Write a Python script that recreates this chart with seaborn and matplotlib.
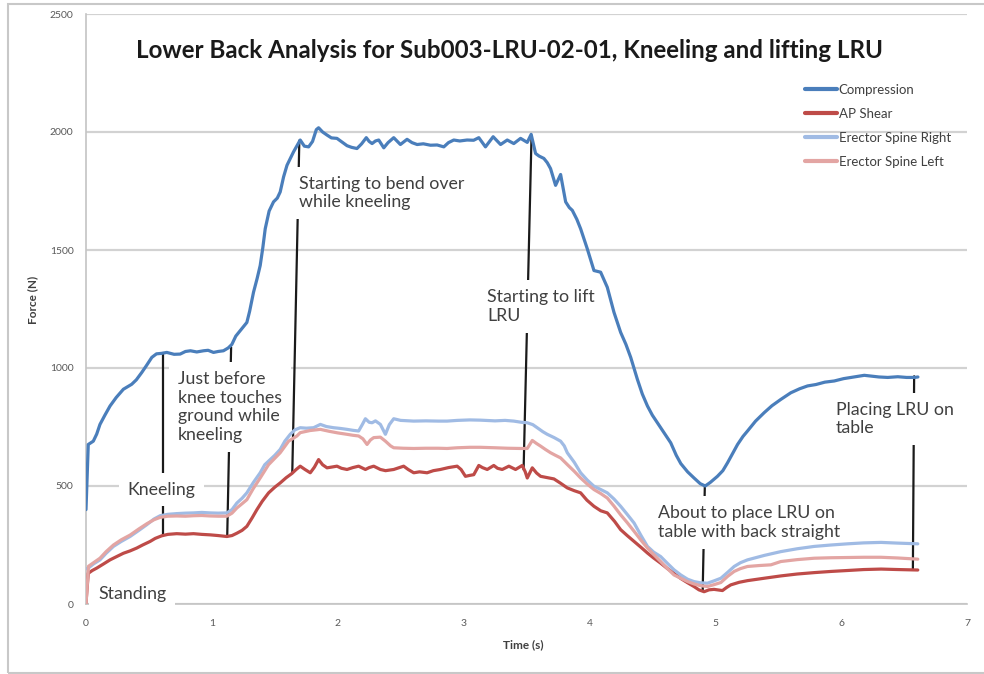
import matplotlib
matplotlib.use("Agg")
import matplotlib.pyplot as plt
import seaborn as sns
from matplotlib.patches import Rectangle

sns.set_theme(style="white")
plt.rcParams['font.family'] = ['Lato', 'DejaVu Sans']

# ---- measured forces (N) against time (s) ----
comp_t = [0.000, 0.018, 0.058, 0.085, 0.111, 0.150, 0.191, 0.240, 0.297, 0.363, 0.400, 0.443, 0.480,
          0.523, 0.560, 0.600, 0.642, 0.700, 0.748, 0.790, 0.830, 0.880, 0.934, 0.970, 1.013, 1.050,
          1.092, 1.130, 1.159, 1.190, 1.225, 1.278, 1.300, 1.331, 1.360, 1.384, 1.405, 1.424, 1.455,
          1.490, 1.520, 1.543, 1.570, 1.597, 1.625, 1.649, 1.680, 1.702, 1.735, 1.769, 1.800, 1.830,
          1.848, 1.880, 1.915, 1.950, 1.994, 2.040, 2.074, 2.110, 2.153, 2.190, 2.227, 2.250, 2.273,
          2.300, 2.326, 2.366, 2.400, 2.445, 2.470, 2.498, 2.525, 2.551, 2.590, 2.631, 2.680, 2.737,
          2.790, 2.843, 2.880, 2.922, 2.970, 3.028, 3.080, 3.121, 3.174, 3.235, 3.294, 3.347, 3.399,
          3.453, 3.506, 3.537, 3.572, 3.600, 3.638, 3.665, 3.691, 3.731, 3.771, 3.811, 3.840, 3.864,
          3.900, 3.930, 3.983, 4.036, 4.060, 4.089, 4.142, 4.195, 4.248, 4.290, 4.328, 4.381, 4.420,
          4.461, 4.500, 4.540, 4.600, 4.646, 4.690, 4.726, 4.780, 4.831, 4.880, 4.920, 4.960, 5.017,
          5.060, 5.097, 5.140, 5.177, 5.220, 5.256, 5.320, 5.389, 5.450, 5.521, 5.600, 5.670, 5.733,
          5.800, 5.870, 5.945, 6.020, 6.100, 6.184, 6.250, 6.300, 6.370, 6.450, 6.520, 6.582, 6.610]
comp_f = [400, 676, 690, 720, 761, 800, 839, 875, 910, 931, 950, 981, 1010,
          1045, 1060, 1062, 1066, 1058, 1059, 1070, 1073, 1068, 1073, 1075, 1066, 1070,
          1073, 1085, 1100, 1135, 1158, 1193, 1240, 1321, 1380, 1434, 1510, 1590, 1665,
          1704, 1720, 1746, 1810, 1859, 1890, 1916, 1945, 1966, 1940, 1937, 1960, 2010,
          2018, 2000, 1987, 1975, 1973, 1955, 1942, 1935, 1930, 1950, 1976, 1960, 1951,
          1962, 1966, 1933, 1955, 1976, 1962, 1947, 1958, 1969, 1955, 1947, 1950, 1944,
          1945, 1937, 1955, 1966, 1962, 1966, 1965, 1976, 1937, 1980, 1947, 1966, 1951,
          1973, 1956, 1990, 1909, 1898, 1888, 1870, 1845, 1774, 1820, 1704, 1680, 1668,
          1630, 1590, 1505, 1413, 1410, 1406, 1342, 1236, 1151, 1100, 1045, 952, 890,
          839, 800, 768, 720, 683, 630, 595, 560, 534, 510, 500, 515, 541,
          565, 598, 640, 676, 710, 733, 775, 811, 840, 867, 895, 912, 924,
          930, 940, 945, 955, 962, 969, 965, 962, 960, 963, 960, 960, 962]

shear_t = [0.000, 0.018, 0.050, 0.085, 0.140, 0.191, 0.240, 0.297, 0.350, 0.403, 0.450, 0.509, 0.550,
           0.602, 0.650, 0.721, 0.790, 0.854, 0.920, 0.986, 1.050, 1.119, 1.160, 1.199, 1.240, 1.278,
           1.320, 1.358, 1.400, 1.451, 1.500, 1.543, 1.590, 1.636, 1.670, 1.702, 1.740, 1.782, 1.815,
           1.848, 1.880, 1.915, 1.950, 1.994, 2.030, 2.074, 2.120, 2.166, 2.220, 2.250, 2.286, 2.339,
           2.380, 2.445, 2.490, 2.524, 2.560, 2.604, 2.650, 2.710, 2.760, 2.816, 2.880, 2.949, 2.980,
           3.015, 3.050, 3.081, 3.121, 3.150, 3.188, 3.240, 3.270, 3.307, 3.360, 3.413, 3.466, 3.490,
           3.506, 3.546, 3.580, 3.612, 3.660, 3.718, 3.770, 3.824, 3.880, 3.930, 3.980, 4.036, 4.090,
           4.142, 4.200, 4.248, 4.300, 4.355, 4.410, 4.461, 4.510, 4.566, 4.620, 4.672, 4.726, 4.780,
           4.831, 4.870, 4.911, 4.950, 4.990, 5.057, 5.090, 5.123, 5.190, 5.256, 5.400, 5.521, 5.650,
           5.786, 5.920, 6.052, 6.180, 6.317, 6.450, 6.609]
shear_f = [5, 130, 142, 152, 170, 187, 200, 215, 225, 237, 250, 265, 278,
           289, 295, 298, 296, 298, 295, 293, 290, 286, 290, 300, 312, 329,
           365, 400, 435, 471, 495, 513, 535, 553, 570, 584, 570, 556, 580,
           612, 590, 577, 580, 584, 575, 570, 578, 584, 570, 578, 584, 570,
           565, 570, 578, 584, 570, 556, 560, 556, 565, 570, 578, 584, 570,
           541, 545, 548, 587, 578, 570, 587, 575, 570, 584, 570, 587, 560,
           534, 577, 555, 541, 536, 530, 512, 492, 480, 471, 440, 414, 395,
           386, 350, 315, 290, 265, 240, 216, 195, 173, 150, 130, 108, 90,
           74, 60, 52, 60, 62, 57, 70, 81, 92, 99, 110, 119, 127,
           133, 138, 142, 146, 148, 146, 144]

esr_t = [0.005, 0.018, 0.060, 0.111, 0.160, 0.218, 0.280, 0.350, 0.420, 0.483, 0.540, 0.589, 0.650,
         0.721, 0.790, 0.854, 0.920, 0.986, 1.050, 1.119, 1.160, 1.199, 1.240, 1.278, 1.330, 1.384,
         1.420, 1.464, 1.500, 1.543, 1.580, 1.623, 1.660, 1.702, 1.750, 1.808, 1.862, 1.910, 1.967,
         2.020, 2.074, 2.120, 2.166, 2.195, 2.220, 2.250, 2.273, 2.300, 2.339, 2.379, 2.410, 2.445,
         2.500, 2.604, 2.700, 2.800, 2.869, 2.950, 3.050, 3.134, 3.250, 3.330, 3.399, 3.460, 3.506,
         3.550, 3.585, 3.630, 3.665, 3.720, 3.771, 3.800, 3.824, 3.880, 3.930, 3.983, 4.036, 4.090,
         4.142, 4.195, 4.248, 4.300, 4.355, 4.410, 4.461, 4.510, 4.566, 4.620, 4.672, 4.726, 4.780,
         4.831, 4.880, 4.937, 4.990, 5.044, 5.100, 5.150, 5.200, 5.256, 5.390, 5.521, 5.650, 5.786,
         5.920, 6.052, 6.180, 6.317, 6.450, 6.609]
esr_f = [150, 152, 170, 187, 215, 244, 265, 286, 312, 336, 360, 374, 380,
         383, 385, 386, 388, 386, 385, 386, 400, 428, 448, 471, 515, 556,
         590, 612, 630, 655, 690, 719, 738, 747, 745, 747, 761, 752, 747,
         744, 740, 736, 733, 760, 785, 770, 768, 776, 761, 719, 760, 785,
         778, 775, 776, 775, 775, 778, 780, 779, 776, 778, 775, 770, 768,
         760, 747, 730, 719, 705, 690, 670, 641, 600, 556, 525, 499, 485,
         471, 445, 414, 380, 343, 290, 244, 220, 201, 172, 145, 123, 105,
         95, 90, 88, 98, 109, 135, 159, 175, 187, 206, 222, 234, 244,
         250, 255, 259, 261, 258, 255]

esl_t = [0.000, 0.020, 0.060, 0.111, 0.160, 0.218, 0.280, 0.350, 0.420, 0.483, 0.540, 0.589, 0.650,
         0.721, 0.790, 0.854, 0.920, 0.986, 1.050, 1.119, 1.160, 1.199, 1.240, 1.278, 1.330, 1.384,
         1.450, 1.543, 1.610, 1.676, 1.702, 1.780, 1.862, 1.930, 2.000, 2.074, 2.120, 2.166, 2.200,
         2.233, 2.260, 2.286, 2.339, 2.379, 2.420, 2.445, 2.520, 2.604, 2.700, 2.800, 2.869, 2.950,
         3.050, 3.134, 3.250, 3.350, 3.453, 3.506, 3.546, 3.580, 3.612, 3.650, 3.691, 3.730, 3.771,
         3.824, 3.880, 3.930, 3.983, 4.036, 4.090, 4.142, 4.195, 4.248, 4.300, 4.355, 4.410, 4.461,
         4.510, 4.566, 4.620, 4.672, 4.726, 4.780, 4.831, 4.880, 4.937, 4.990, 5.044, 5.100, 5.150,
         5.200, 5.256, 5.350, 5.442, 5.521, 5.650, 5.786, 5.920, 6.052, 6.180, 6.317, 6.450, 6.609]
esl_f = [0, 160, 175, 194, 222, 250, 272, 292, 318, 340, 357, 367, 372,
         373, 372, 374, 375, 373, 372, 372, 385, 407, 425, 442, 490, 534,
         590, 641, 690, 712, 726, 735, 740, 732, 725, 719, 715, 712, 700,
         676, 695, 705, 707, 690, 670, 662, 660, 659, 660, 660, 659, 662,
         664, 664, 662, 660, 659, 659, 693, 680, 669, 655, 641, 630, 619,
         591, 562, 534, 508, 485, 468, 449, 415, 378, 345, 308, 270, 237,
         210, 180, 150, 123, 109, 95, 85, 78, 74, 82, 91, 118, 138,
         150, 159, 163, 166, 180, 188, 194, 196, 197, 198, 198, 195, 190]

series_names = ["Compression", "AP Shear", "Erector Spine Right", "Erector Spine Left"]
series_colors = ["#4a7ebb", "#be4b48", "#a0bbe4", "#e3a5a3"]

# event notes: label, point on compression, point on lower trace, text anchor (left, centre)
note_labels = ["Standing",
               "Just before\nknee touches\nground while\nkneeling",
               "Kneeling",
               "Starting to bend over\nwhile kneeling",
               "Starting to lift\nLRU",
               "About to place LRU on\ntable with back straight",
               "Placing LRU on\ntable"]
note_top = [None, (1.153, 1088), (0.613, 1063), (1.695, 1964), (3.540, 1985), (4.917, 502), (6.580, 965)]
note_bottom = [None, (1.122, 285), (0.613, 293), (1.639, 557), (3.477, 570), (4.900, 60), (6.570, 145)]
note_text_at = [(0.095, 42), (0.732, 835), (0.330, 485), (1.695, 1741), (3.190, 1261), (4.543, 346), (5.959, 784)]

W, H = 984, 674
fig = plt.figure(figsize=(W / 100, H / 100), dpi=100)
fig.patch.set_facecolor("white")
ax = fig.add_axes([86 / W, 1 - 604 / H, (967 - 86) / W, (604 - 14) / H])

frames = [(comp_t, comp_f), (shear_t, shear_f), (esr_t, esr_f), (esl_t, esl_f)]
for (t, f), name, col in zip(frames, series_names, series_colors):
    sns.lineplot(x=t, y=f, ax=ax, color=col, lw=2.3, label=name,
                 sort=False, estimator=None, zorder=5)

# event markers with white label boxes
for i, (lab, p1, p2, pt) in enumerate(zip(note_labels, note_top, note_bottom, note_text_at)):
    z = 3 + i * 0.1
    if p1 is not None:
        ax.plot([p1[0], p2[0]], [p1[1], p2[1]], color="#1a1a1a", lw=1.6, zorder=z)
    ax.text(pt[0], pt[1], lab, ha="left", va="center", fontsize=12.8, color="#404040",
            linespacing=1.2, zorder=z + 0.05,
            bbox=dict(boxstyle="square,pad=0.5", facecolor="white", edgecolor="none"))

ax.set_xlim(0, 7)
ax.set_ylim(0, 2500)
ax.set_xticks(range(0, 8))
ax.set_yticks(range(0, 2501, 500))
ax.set_axisbelow(True)
ax.yaxis.grid(True, color="#d2d2d2", lw=1.6)
ax.xaxis.grid(False)
for s in ["top", "right"]:
    ax.spines[s].set_visible(False)
for s in ["left", "bottom"]:
    ax.spines[s].set_color("#c4c4c4")
    ax.spines[s].set_linewidth(1.2)
ax.tick_params(axis="both", direction="out", length=5, width=1, color="#c4c4c4",
               labelsize=7.5, labelcolor="#595959")
ax.tick_params(axis="y", pad=4)
ax.tick_params(axis="x", pad=6)
ax.set_xlabel("")
ax.set_ylabel("")

leg = ax.legend(loc="upper left", bbox_to_anchor=(805 / W, 1 - 84 / H), bbox_transform=fig.transFigure,
                frameon=False, fontsize=9.5, handlelength=2.4, handletextpad=0.15,
                labelspacing=0.9, borderpad=0, borderaxespad=0)
for txt in leg.get_texts():
    txt.set_color("#404040")
for ln in leg.get_lines():
    ln.set_linewidth(3)

fig.text(510 / W, 1 - 50 / H, "Lower Back Analysis for Sub003-LRU-02-01, Kneeling and lifting LRU",
         ha="center", va="center", fontsize=17.4, fontweight="bold", color="#1a1a1a")
fig.text(33 / W, 1 - 300 / H, "Force (N)", rotation=90, ha="center", va="center",
         fontsize=8.5, fontweight="bold", color="#404040")
fig.text(523 / W, 1 - 645 / H, "Time (s)", ha="center", va="center",
         fontsize=8.5, fontweight="bold", color="#404040")

fig.add_artist(Rectangle((8 / W, 1 - 673 / H), 1.0, (673 - 4) / H, transform=fig.transFigure,
                         fill=False, edgecolor="#c8c8c8", lw=1.5))

fig.savefig("out.png", dpi=100)
